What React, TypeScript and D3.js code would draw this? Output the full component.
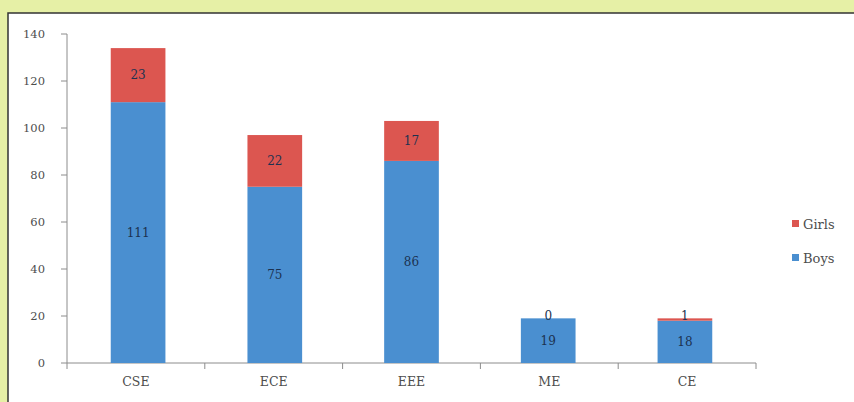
import React from "react";
import * as d3 from "d3";

const categories = ["CSE", "ECE", "EEE", "ME", "CE"];
const boys = [111, 75, 86, 19, 18];
const girls = [23, 22, 17, 0, 1];
const yTicks = [0, 20, 40, 60, 80, 100, 120, 140];
const seriesNames = ["Girls", "Boys"];

const W = 854;
const H = 402;
const FONT = "'DejaVu Serif', serif";

const App = () => {
  const left = 67,
    right = 756,
    top = 34,
    bottom = 363;

  const x = d3.scaleBand().domain(categories).range([left, right]).paddingInner(0.6).paddingOuter(0.32);
  const band = d3.scaleBand().domain(categories).range([left, right]);
  const y = d3.scaleLinear().domain([0, 140]).range([bottom, top]);

  const rows = categories.map((c, i) => ({ cat: c, Boys: boys[i], Girls: girls[i] }));
  const stack = d3.stack<any>().keys(["Boys", "Girls"])(rows);
  const colors: Record<string, string> = { Boys: "#4a8fd0", Girls: "#dc5650" };

  return (
    <svg width={W} height={H} style={{ position: "absolute", left: 0, top: 0 }}>
      <rect x={0} y={0} width={W} height={H} fill="#e6f0a6" />
      <rect x={8} y={13} width={W} height={H} fill="#ffffff" stroke="#333" strokeWidth={1.5} />

      {/* y axis */}
      <line x1={left} x2={left} y1={top} y2={bottom} stroke="#8c8c8c" />
      {yTicks.map((t) => (
        <g key={t}>
          <line x1={left - 6} x2={left} y1={y(t)} y2={y(t)} stroke="#8c8c8c" />
          <text x={left - 22} y={y(t)} dy="0.35em" textAnchor="end" fontFamily={FONT} fontSize={11.5} fill="#4d4d4d">
            {t}
          </text>
        </g>
      ))}

      {/* x axis */}
      <line x1={left} x2={right} y1={bottom} y2={bottom} stroke="#8c8c8c" />
      {[...categories.map((c) => band(c) as number), right].map((v, i) => (
        <line key={i} x1={v} x2={v} y1={bottom} y2={bottom + 6} stroke="#8c8c8c" />
      ))}
      {categories.map((c) => (
        <text key={c} x={(band(c) as number) + band.bandwidth() / 2} y={bottom + 19} dy="0.35em" textAnchor="middle" fontFamily={FONT} fontSize={12.5} fill="#4d4d4d">
          {c}
        </text>
      ))}

      {/* bars */}
      {stack.map((s) =>
        s.map((d, i) => (
          <rect
            key={s.key + i}
            x={x(categories[i])}
            y={y(d[1])}
            width={x.bandwidth()}
            height={y(d[0]) - y(d[1])}
            fill={colors[s.key]}
          />
        ))
      )}
      {stack.map((s) =>
        s.map((d, i) => {
          const v = d[1] - d[0];
          let cy = (y(d[0]) + y(d[1])) / 2;
          if (s.key === "Girls" && v < 3) cy = y(d[1]) - 3;
          return (
            <text
              key={"l" + s.key + i}
              x={(x(categories[i]) as number) + x.bandwidth() / 2}
              y={cy}
              dy="0.35em"
              textAnchor="middle"
              fontFamily={FONT}
              fontSize={12}
              fill="#1c3250"
            >
              {v}
            </text>
          );
        })
      )}

      {/* legend */}
      {seriesNames.map((n, i) => (
        <g key={n} transform={`translate(792, ${224 + i * 34})`}>
          <rect x={0} y={-4} width={7} height={7} fill={colors[n]} />
          <text x={11} y={0} dy="0.35em" fontFamily={FONT} fontSize={13} fill="#4d4d4d">
            {n}
          </text>
        </g>
      ))}
    </svg>
  );
};

export default App;
